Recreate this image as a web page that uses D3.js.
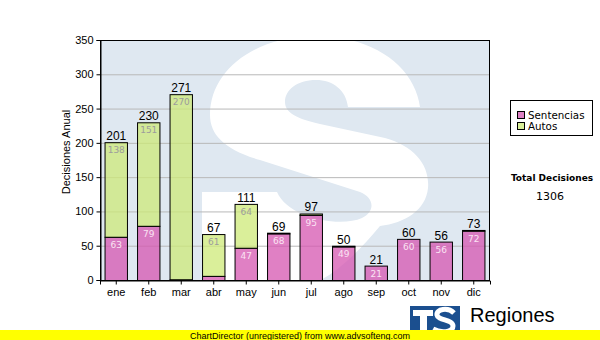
<!DOCTYPE html>
<html><head><meta charset="utf-8">
<script src="https://cdn.jsdelivr.net/npm/d3@7"></script>
<style>body{margin:0;background:#fff}svg{display:block}</style>
</head><body><svg id="c" width="600" height="340"></svg>
<script>
const months = ["ene","feb","mar","abr","may","jun","jul","ago","sep","oct","nov","dic"];
const sentencias = [63,79,1,6,47,68,95,49,21,60,56,72];
const autos = [138,151,270,61,64,1,2,1,0,0,0,1];
const yTicks = [0,50,100,150,200,250,300,350];
const seriesNames = ["Sentencias","Autos"];
const totalLabel = "Total Decisiones";

const svg = d3.select("#c");
const W=600,H=340, L=100,R=490,T=40,B=280;
const x = d3.scaleBand().domain(months).range([L,R]).paddingInner(0.28).paddingOuter(0.14);
const y = d3.scaleLinear().domain([0,350]).range([B,T]);
const pink="#d656b0", green="#cde978";

svg.append("defs").append("clipPath").attr("id","pc").append("rect")
  .attr("x",L).attr("y",T).attr("width",R-L).attr("height",B-T);
// background
svg.append("rect").attr("x",L).attr("y",T).attr("width",R-L).attr("height",B-T).attr("fill","#dfe8f1");
svg.append("path").attr("clip-path","url(#pc)").attr("fill","#fff")
  .attr("d","M420,107 L348,107 C346,90 333,80 316,80 C297,80 285,90 285,102 C285,113 298,119 320,124 L385,138 C414,146 430,165 428,188 C426,210 405,223 380,226 C350,262 320,290 280,292 L202,292 L202,192 L277,192 C288,218 340,228 362,218 C375,212 375,198 360,192 L260,160 C225,150 210,135 210,115 C210,70 255,36 316,36 C375,36 415,68 420,107 Z");
// grid
svg.append("g").selectAll("line").data(yTicks.filter(d=>d>0&&d<350)).join("line")
  .attr("x1",L).attr("x2",R).attr("y1",d=>y(d)+0.5).attr("y2",d=>y(d)+0.5)
  .attr("stroke","#b8b8b8").attr("stroke-width",1);

const stack = months.map((m,i)=>({m,s:sentencias[i],a:autos[i],t:sentencias[i]+autos[i]}));
const g = svg.append("g");
g.selectAll("rect.s").data(stack).join("rect").attr("class","s")
  .attr("x",d=>x(d.m)+0.5).attr("width",x.bandwidth()-1)
  .attr("y",d=>y(d.s)+0.5).attr("height",d=>y(0)-y(d.s))
  .attr("fill",pink).attr("fill-opacity",0.75).attr("stroke","#000").attr("stroke-width",1);
g.selectAll("rect.a").data(stack.filter(d=>d.a>0)).join("rect").attr("class","a")
  .attr("x",d=>x(d.m)+0.5).attr("width",x.bandwidth()-1)
  .attr("y",d=>y(d.t)+0.5).attr("height",d=>y(d.s)-y(d.t))
  .attr("fill",green).attr("fill-opacity",0.75).attr("stroke","#000").attr("stroke-width",1);
g.selectAll("text.sl").data(stack.filter(d=>y(0)-y(d.s)>12)).join("text")
  .attr("x",d=>x(d.m)+x.bandwidth()/2).attr("y",d=>y(d.s)+11)
  .attr("text-anchor","middle").attr("font-family","DejaVu Sans").attr("font-size",9)
  .attr("fill","#fbe3f3").text(d=>d.s);
g.selectAll("text.al").data(stack.filter(d=>y(d.s)-y(d.t)>12)).join("text")
  .attr("x",d=>x(d.m)+x.bandwidth()/2).attr("y",d=>y(d.t)+11)
  .attr("text-anchor","middle").attr("font-family","DejaVu Sans").attr("font-size",9)
  .attr("fill","#9c9c9c").text(d=>d.a);
g.selectAll("text.tl").data(stack).join("text")
  .attr("x",d=>x(d.m)+x.bandwidth()/2).attr("y",d=>y(d.t)-2)
  .attr("text-anchor","middle").attr("font-family","Liberation Sans, Arial").attr("font-size",12)
  .attr("fill","#000").text(d=>d.t);

svg.append("rect").attr("x",L+0.5).attr("y",T+0.5).attr("width",R-L-1).attr("height",B-T).attr("fill","none").attr("stroke","#000");
const ya = svg.append("g").attr("transform",`translate(${L+0.5},0)`)
  .call(d3.axisLeft(y).tickValues(yTicks).tickSize(4).tickPadding(3));
const xa = svg.append("g").attr("transform",`translate(0,${B+0.5})`)
  .call(d3.axisBottom(x).tickSize(4).tickPadding(4));
[ya,xa].forEach(a=>{a.select(".domain").attr("stroke","#000");a.selectAll("text").attr("font-family","Liberation Sans, Arial").attr("font-size",11).attr("fill","#000");});
svg.append("text").attr("transform","translate(70,152) rotate(-90)").attr("text-anchor","middle")
  .attr("font-family","Liberation Sans, Arial").attr("font-size",11).text("Decisiones Anual");

svg.append("rect").attr("x",510.5).attr("y",100.5).attr("width",82).attr("height",35).attr("fill","#fff").attr("stroke","#000");
const lg = svg.append("g").selectAll("g").data(seriesNames).join("g")
  .attr("transform",(d,i)=>`translate(517,${111+i*11})`);
lg.append("rect").attr("x",0.5).attr("y",0.5).attr("width",7).attr("height",7)
  .attr("fill",(d,i)=>i?"#d9ef99":"#dd80c3").attr("stroke","#000");
lg.append("text").attr("x",11).attr("y",7.5).attr("font-family","DejaVu Sans").attr("font-size",10.3).text(d=>d);

svg.append("text").attr("x",552).attr("y",181).attr("text-anchor","middle").attr("font-family","DejaVu Sans")
  .attr("font-weight","bold").attr("font-size",9).text(totalLabel);
svg.append("text").attr("x",550).attr("y",200).attr("text-anchor","middle").attr("font-family","DejaVu Sans")
  .attr("font-size",11).text(d3.sum(sentencias)+d3.sum(autos));

svg.append("rect").attr("x",410).attr("y",306).attr("width",50).attr("height",30).attr("fill","#1b4f8f");
svg.append("path").attr("fill","#fff").attr("d","M413,310 L433,310 L433,316 L427,316 L427,332 L420,332 L420,316 L413,316 Z");
svg.append("path").attr("fill","none").attr("stroke","#fff").attr("stroke-width",5)
  .attr("d","M454,313 C448,307 436,309 437,315 C438,321 453,319 453,326 C453,333 440,333 433,329");
svg.append("text").attr("x",470).attr("y",322).attr("font-family","Liberation Sans, Arial").attr("font-size",20).text("Regiones");
svg.append("rect").attr("x",0).attr("y",330).attr("width",W).attr("height",10).attr("fill","#ffff00");
svg.append("text").attr("x",190).attr("y",338.5).attr("font-family","Liberation Sans, Arial").attr("font-size",9)
  .attr("fill","#000").text("ChartDirector (unregistered) from www.advsofteng.com");
</script></body></html>
